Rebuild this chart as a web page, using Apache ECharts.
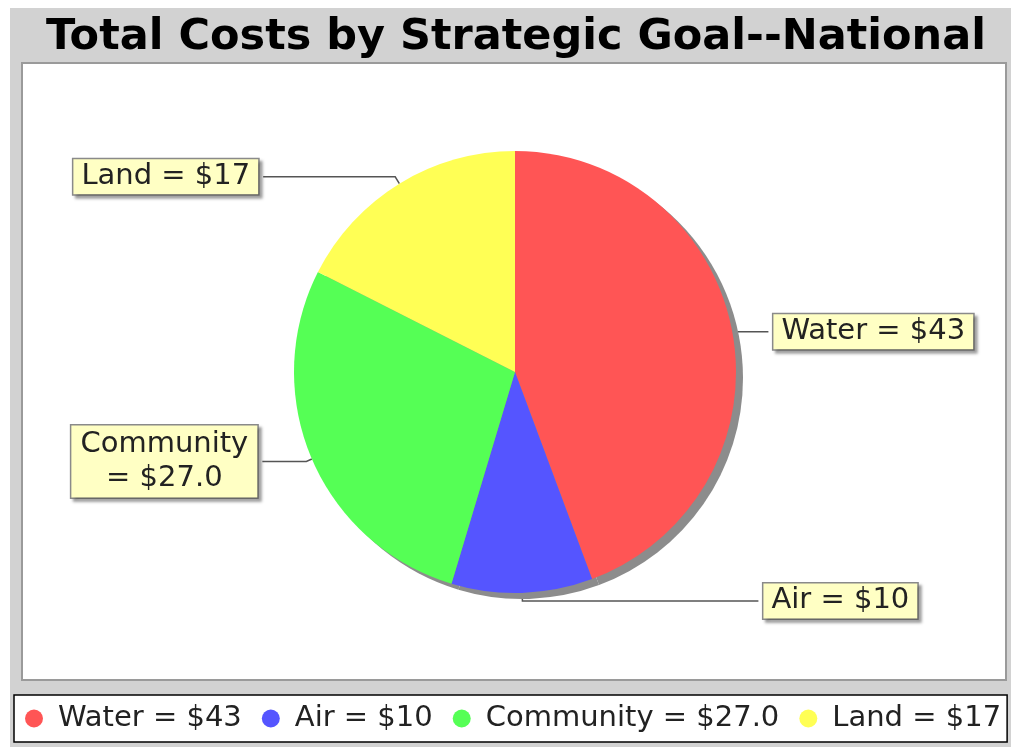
<!DOCTYPE html>
<html>
<head>
<meta charset="utf-8">
<script src="https://cdn.jsdelivr.net/npm/echarts@6/dist/echarts.min.js"></script>
<style>
  html, body { margin: 0; padding: 0; background: #fff; }
  #main { width: 1011px; height: 747px; }
</style>
</head>
<body>
<div id="main"></div>
<script>
// 数据
var goals = ["Water", "Air", "Community", "Land"];
var costs = [43, 10, 27.0, 17];
var costText = ["$43", "$10", "$27.0", "$17"];
var colors = ["#ff5555", "#5555ff", "#55ff55", "#ffff55"];

// label line lengths per slice (radial part, horizontal part)
var lineLen = [6, 8, 6, 8];
var lineLen2 = [30, 236, 44, 132];

var myChart = echarts.init(document.getElementById("main"));

var mainData = goals.map(function (g, i) {
  return {
    name: g,
    value: costs[i],
    labelLine: { length: lineLen[i], length2: lineLen2[i] }
  };
});
var shadowData = goals.map(function (g, i) {
  return { name: g + "_s", value: costs[i] };
});

myChart.setOption({
  backgroundColor: "#fff",
  color: colors,
  title: {
    text: "Total Costs by Strategic Goal--National",
    left: 41,
    top: 11,
    textStyle: {
      fontFamily: "DejaVu Sans",
      fontWeight: "bold",
      fontSize: 43,
      color: "#000"
    }
  },
  graphic: [
    // gray chart background
    { type: "rect", z: -10, shape: { x: 10, y: 8, width: 1001, height: 739 }, style: { fill: "#d2d2d2" } },
    // plot area
    { type: "rect", z: -5, shape: { x: 22, y: 63, width: 984, height: 617 }, style: { fill: "#fff", stroke: "#9a9a9a", lineWidth: 2 } }
  ],
  legend: {
    data: goals,
    left: 14,
    bottom: 5,
    icon: "circle",
    itemWidth: 18,
    itemHeight: 18,
    itemGap: 20,
    padding: [9, 6, 9, 11],
    backgroundColor: "#fff",
    borderColor: "#000",
    borderWidth: 1.5,
    formatter: function (name) {
      return name + " = " + costText[goals.indexOf(name)];
    },
    textStyle: { fontFamily: "DejaVu Sans", fontSize: 29, color: "#222", padding: [0, 0, 0, 10] }
  },
  series: [
    {
      // drop shadow of the pie
      type: "pie",
      silent: true,
      center: [522, 378],
      radius: 221,
      startAngle: 90,
      label: { show: false },
      labelLine: { show: false },
      itemStyle: { color: "#8c8c8c" },
      data: shadowData
    },
    {
      name: "Total Costs",
      type: "pie",
      center: [515, 372],
      radius: 221,
      startAngle: 90,
      clockwise: true,
      avoidLabelOverlap: false,
      itemStyle: { borderWidth: 0 },
      label: {
        alignTo: "none",
        fontFamily: "DejaVu Sans",
        fontSize: 29,
        lineHeight: 31,
        color: "#222",
        backgroundColor: "#ffffc4",
        borderColor: "#8a8a8a",
        borderWidth: 1.5,
        padding: [2, 8],
        shadowColor: "rgba(0,0,0,0.35)",
        shadowOffsetX: 3,
        shadowOffsetY: 3,
        shadowBlur: 3,
        formatter: function (p) {
          if (p.name === "Community") {
            return "{c|Community}\n{c|= " + costText[p.dataIndex] + "}";
          }
          return p.name + " = " + costText[p.dataIndex];
        },
        rich: {
          c: { width: 170, align: "center", fontFamily: "DejaVu Sans", fontSize: 29, color: "#222", lineHeight: 34 }
        }
      },
      labelLine: {
        show: true,
        length: 8,
        lineStyle: { color: "#555", width: 1.5 }
      },
      emphasis: { scale: false },
      data: mainData
    }
  ]
});
</script>
</body>
</html>
